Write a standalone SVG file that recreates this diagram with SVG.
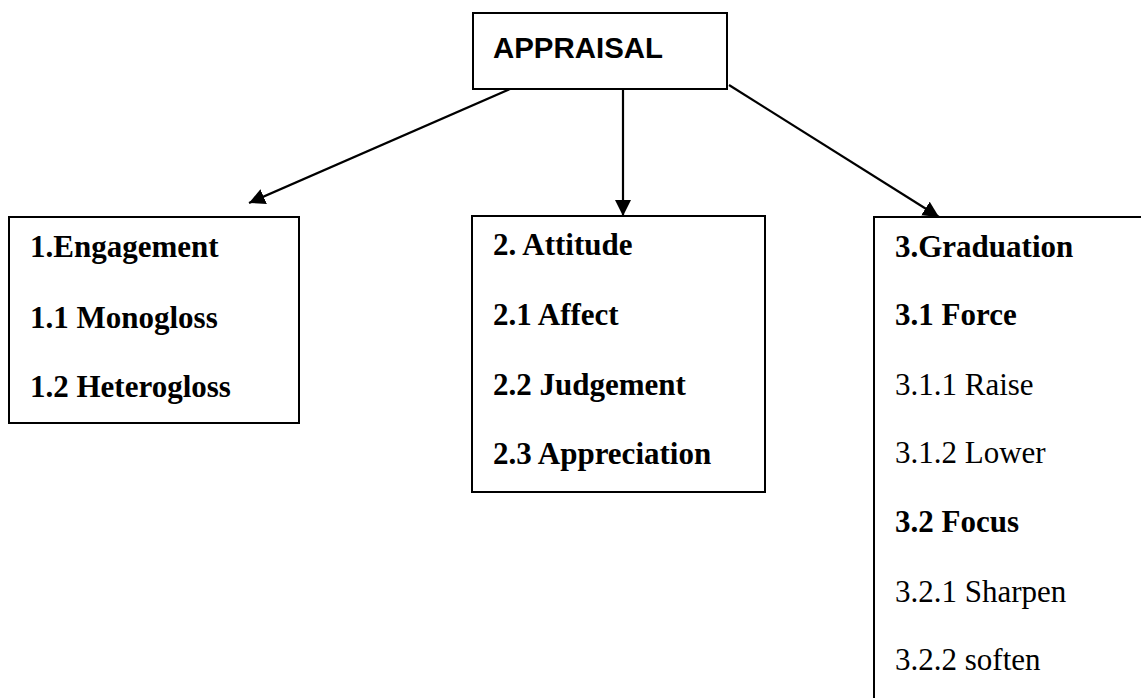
<svg xmlns="http://www.w3.org/2000/svg" width="1141" height="698" viewBox="0 0 1141 698">
<style>
.box{fill:#fff;stroke:#000;stroke-width:2}
.t{font-family:"Liberation Serif","Times New Roman",serif;font-size:31px;fill:#000}
.b{font-weight:bold}
.conn{stroke:#000;stroke-width:2.2;fill:none}
</style>
<defs>
<marker id="ah" markerUnits="userSpaceOnUse" markerWidth="18" markerHeight="18" refX="16" refY="8" orient="auto">
<path d="M0,0 L16,8 L0,16 Z" fill="#000"/>
</marker>
</defs>
<rect width="1141" height="698" fill="#fff"/>
<g id="connectors">
<line class="conn" x1="510" y1="89" x2="249" y2="203" marker-end="url(#ah)"/>
<line class="conn" x1="623" y1="89" x2="623" y2="216" marker-end="url(#ah)"/>
<line class="conn" x1="729" y1="85" x2="939" y2="217" marker-end="url(#ah)"/>
</g>
<g id="appraisal">
<rect class="box" x="473" y="13" width="254" height="76"/>
<text x="493" y="58" font-family="Liberation Sans, Arial, sans-serif" font-weight="bold" font-size="29" textLength="170" lengthAdjust="spacingAndGlyphs">APPRAISAL</text>
</g>
<g id="engagement">
<rect class="box" x="9" y="217" width="290" height="206"/>
<text class="t b" x="30" y="257">1.Engagement</text>
<text class="t b" x="30" y="328">1.1 Monogloss</text>
<text class="t b" x="30" y="397">1.2 Heterogloss</text>
</g>
<g id="attitude">
<rect class="box" x="472" y="216" width="293" height="276"/>
<text class="t b" x="493" y="255">2. Attitude</text>
<text class="t b" x="493" y="325">2.1 Affect</text>
<text class="t b" x="493" y="395">2.2 Judgement</text>
<text class="t b" x="493" y="464">2.3 Appreciation</text>
</g>
<g id="graduation">
<rect class="box" x="874" y="217" width="300" height="500"/>
<text class="t b" x="895" y="257">3.Graduation</text>
<text class="t b" x="895" y="325">3.1 Force</text>
<text class="t" x="895" y="395">3.1.1 Raise</text>
<text class="t" x="895" y="463">3.1.2 Lower</text>
<text class="t b" x="895" y="532">3.2 Focus</text>
<text class="t" x="895" y="602">3.2.1 Sharpen</text>
<text class="t" x="895" y="670">3.2.2 soften</text>
</g>
</svg>
